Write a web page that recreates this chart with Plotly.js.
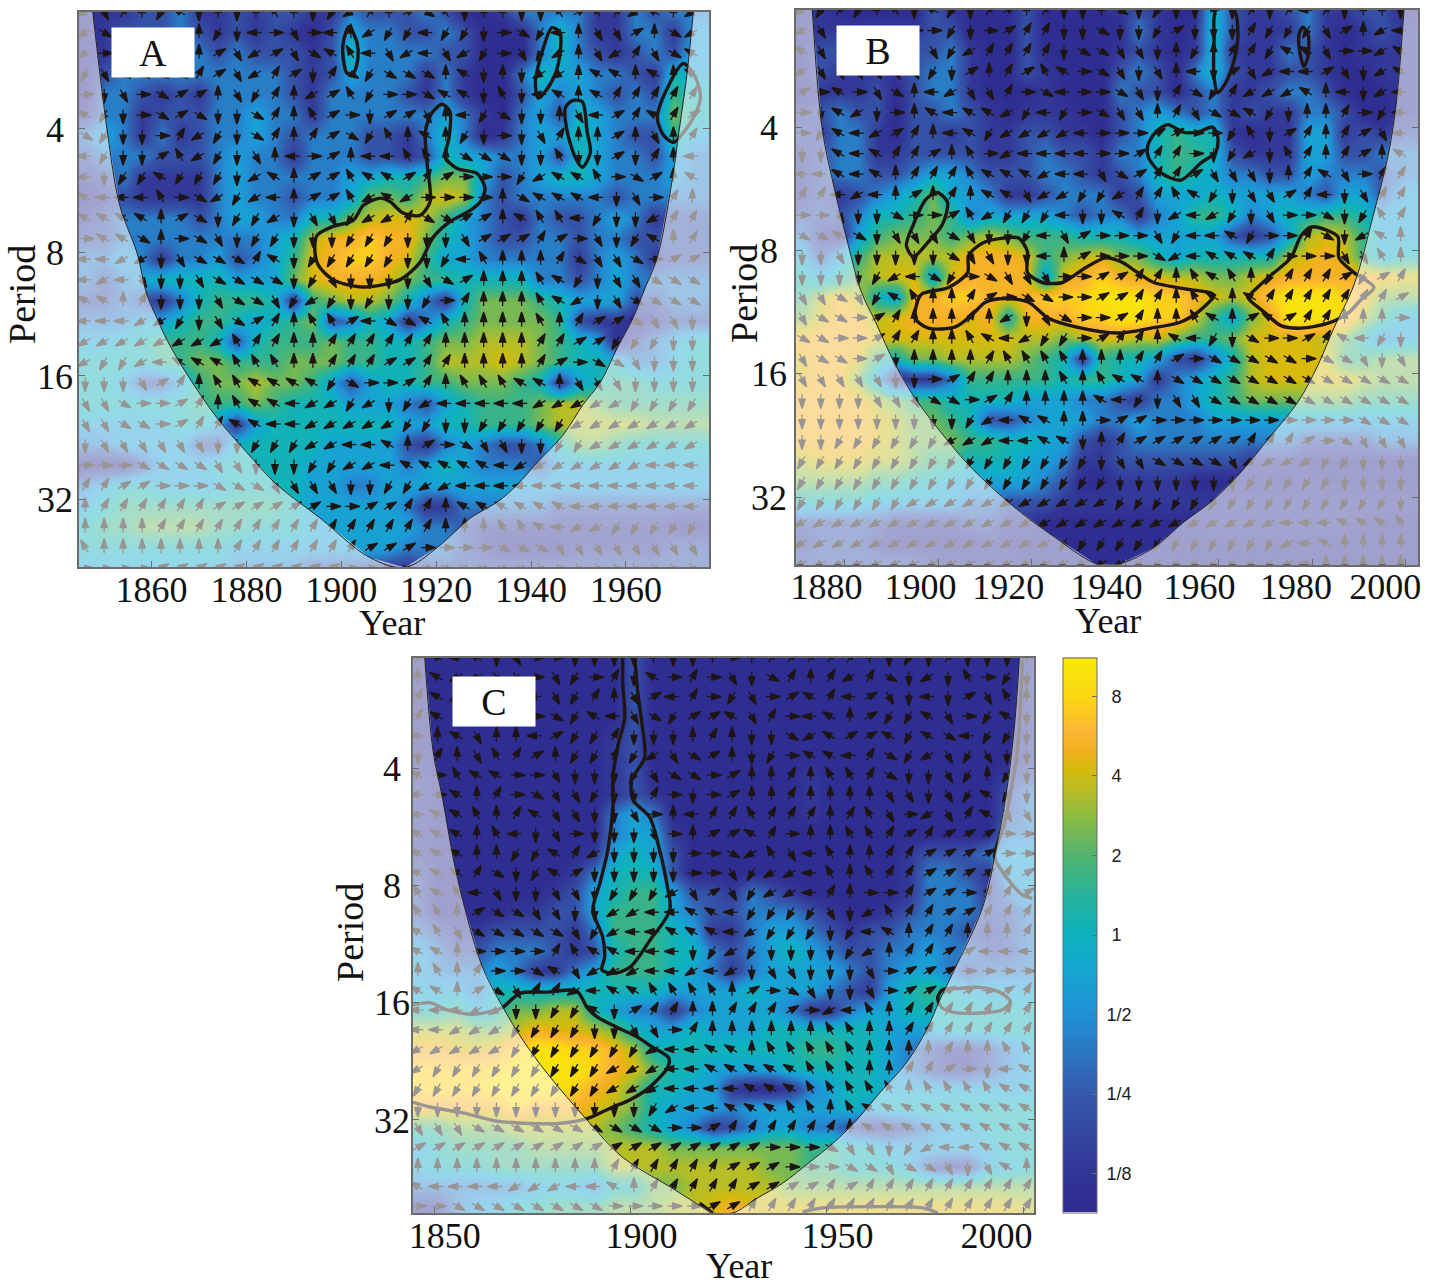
<!DOCTYPE html>
<html><head><meta charset="utf-8">
<script src="https://cdn.plot.ly/plotly-3.0.1.min.js"></script>
<style>html,body{margin:0;padding:0;background:#fff}#c{width:1429px;height:1286px}</style>
</head><body><div id="c"></div>
<script>
// Clock-hour phase of each arrow: 0=up,3=right,6=down,9=left (a=10h,b=11h)
const phaseA=["85107a6060b06781024b60066b2b18a08","843333076935390877977634790552048","8333330258254ab95895873578058154a","75444412581261474440a606880aa0a0a","36534220571082b7334aa6b69a0a11111","a76342466410b23622509746605921a12","476631876410 1247b0a07636510020501","97662b87650932099bb044466b6626109","9677a77768a022baa21233378aab3420a","a999b348789022b8a8333304aaa965310","aaaa0246778655788144220abb9766811","3aa403456776667776665222123567a01","9988654441a6777776679b00014554322","989566544446756666542000ba7655444","aa0166654457876766731000ba8654444","999887654210bb2944ab0000b01224556","88888888b110011111100000112277766","87789aaabbb0011122110000123445666","6665210bbaaaa7433210bbbaa05556666","55433210baa9887867899999888887777","55443211aa99888887766777778888888","6555555667778899a0234556677888888","33344445566677889aaaaa98888888999","112233344455556677889999999999999","01111112222223322110aaaaaa9999999","0000111111111111111000bba98877777","b00000001111111222333344455555555","333322222222223344444444555555555"].map(s=>s.replace(/ /g,""));
const powerA=["011223112122113222320013333113233","012223212121024332232000353113314","012333323222125333322000353212324","023333333332124333131003544332154","033212133332133332131002434323265","133122233433133333343103425433375","343131233432333221353013445432264","233322234331333221254433425433243","123111134333334455677423455433343","012111134332334776898323333323333","123333234433557899864321322343122","2233333333458aabaa754322332332222","3343133423469abba9644333331343122","3234555544479aaa97665555332343333","223213566651678875315777654442233","333445665456723541356777762110122","445566652566676655677888765402345","555566776667776655688898765553345","554224677877642455667776514566555","555555666765554443245666788766666","444445541455555554455666788888777","334444225555544442134322357765555","000244455555444443454333244444444","345544445555443344444444444444444","456666666665444443113333322222222","566777766555444444332111111111100","555555554444444443332100001111122","444444443333222211222222222222222"];
const phaseB=["87170b6a76120166046766b6161916006","855555337632116646672666177752089","a5555555781111644556070117aa5338a","8555555762012ba34565096258992568a","23a354098551349334561471888a09689","36a8630a9aa8797345501544a76001379","37a982109a78888933322337b62101259","66a9a1120b3899993321136786b10120a","99a9a0111baaa899542112555601a5311","1198902010aa58877811ba76552196511","335664332b8777966a1689876533467b1","44a46555456679523335799a7331468a0","6656666645566902333489aaa133355b0","666678947345553322110bab071112721","55457ab00123443322110ba0a11111112","544321000108654332100ba02a2110003","443321100ba987732110a97643321a976","54432600001bbbb000112344444344565","55555663211000b0baa04444444444444","6666555443210000a9765544444444444","666666666789aa0032233333333333444","6677777788899aa601222222111234555","777777777777777765544445888877666","777777777777777776666666777776666","777777888888888887777777777777776","88888888888888888888888888999aaab","8888888888888877777777777789a0000","888888888888888888777777778900000"];
const powerB=["010000021000200001210052112311220","011111122000200000310152111310121","022222223100200001210151113210111","021111233100210002320352112210011","011120233100010003220231123320001","123220223210111002343231211332001","213310221211221102356551011441212","123311222211232213356652111442233","123322344322233212356543322433323","121234574431123331244454444324424","222355676344443233134665345566544","310467776787666555444442124898644","424688888aaa9678977545555589a9645","545789949aaaa49aba99887789aaaaaa9","68a854aabbaaabbbcccbba989bcccba77","79aa89aaa9a5aaabbccbb96479cccb864","aaaa99999999887899897667999987534","9aa965778888765165542135899996677","9aa740113666665665413456899999877","aaaa87665555444332133456777777666","aaaa98776522344433433344444444444","aaaa98777665544212333333333222233","899988766555443112222222111000000","777766554444432001111000000100000","555544444332221111111111111111111","222221111221100000000011111111000","122210000010000000000000000000000","222222211111000000000000000000000"];
const phaseC=["1a9a653366660660301111106761666 0","0a8855357316a313564101814686b376","1a885595710529137532a192569625b0","1a5555347a954722a5139a0277a537a6","90a500927716660106648a22a7a49776","6105b120771785420673aa9147857566","a3baa3356667544320010bb146657076","93a01345576613632001000055657a76","9aab01a5566530911b11101b53851a55","aaa0b965366653022a1300bb12122233","aaa0077a1866663348b59b0011222233","aaa1467a2666663357889b0b11222212","bab95665567778525788910331223112","bb024455668899aa97777568b1122111","ab54444457899aaa98777679a0110001","aa033331baa999678766667801122999","0b01334a588899898655666532223333","aa02451189aabbbb0234566532222321","999886677a6211001112389b01111111","998887777665531000000bb001111111","888887777777899aa0bbbbb0000100bb","877777777788899aaaaabbb00112369a","77777777778889999aaabbbbb0bbbbaa","6666666666667899aaabb0baaaaaaaaa","55544444444443321111110aaaaaaaaa","22222222222222222233345567899aaa","000000000011111122233344544565a0","a999988899a011111222212111111111","33444444443333322111111111111111"].map(s=>s.replace(/ /g,""));
const powerC=["00000000000200000000000000000000","00000000000200000000000000000001","00000000000200000000000000000001","00000000000200000000000000000001","00000000001200000000000000000001","00000000001200000000000000000001","10000000001200000000100000000012","10000000001210000000100000000023","10000000003430000000100000000023","10000000003441000000000000000033","10000000014542000000000001222344","20000000135552000000000001332144","20000001245664221321000001333134","20000112246664322333210012333223","32112222136665411344321223332123","43223332125665532345432233433223","43334311346665431344443234432333","44435555555554444544432145654444","55645778854331344443113445555555","888778a9987544544455555544455555","aa99abccbba855555555665543211234","bbbbbccccba975544445555543211234","bbbbccccba9755441001345544444444","aaaaabaaa98754443444445455555555","66777888887654312344332112344555","45666677778887777777665544444455","45556666668888888877665554211445","33333344435577888887777777777777","1134455666777889a999999999999998"];

// Numeric power (log2) for each level character; colour stops of the bar
const levels=[-3.4,-2.9,-2.2,-1.35,-0.55,0.1,0.7,1.3,1.8,2.1,2.4,2.9,3.3];
const barStops=[-3.49,-3,-2,-1,-0.4,0,0.5,1,1.5,1.85,2.1,2.3,2.55,3,3.49];
const barColors=["#2d2b90","#323596","#3559ac","#2191d6","#14a8d0","#0eb2bd","#27b39a","#52b46f","#8fbc42","#bcbd20","#d8b90c","#f2b020","#fbb632","#fcd812","#f6ea0a"];
const barTickVals=[3,2,1,0,-1,-2,-3];
const barTickText=["\u00a0\u00a08","\u00a0\u00a04","\u00a0\u00a02","\u00a0\u00a01","\u00a01/2","\u00a01/4","\u00a01/8"];

// Cone of influence [year, log2 period]
const coiA=[[1847.6,1850.6,1853.3,1856.9,1859,1861.1,1863.4,1867.7,1873.8,1880.1,1886.4,1895.5,1906,1913.4,1920.2,1927.2,1932.9,1937.1,1941.3,1946.7,1951,1954.6,1958.2,1961.5,1964,1966.6,1970,1971,1972.9,1974.2],[1.05,2,2.62,3,3.34,3.53,3.72,4,4.34,4.62,4.88,5.15,5.47,5.55,5.39,5.15,5.02,4.88,4.7,4.48,4.23,4.05,3.77,3.53,3.29,3.04,2.35,2.07,1.54,1.05]];
const coiB=[[1873.1,1875.2,1878,1880.8,1883.4,1886.6,1890.9,1895.1,1902.2,1907.3,1915.9,1923.6,1933.7,1936.5,1939,1946.1,1952.6,1958.3,1964.7,1971.2,1976.9,1981.2,1984.6,1988.9,1993.2,1996.2,1997.9,1999.6],[1.05,2.01,2.53,2.96,3.32,3.58,3.93,4.2,4.55,4.77,5.07,5.29,5.54,5.547,5.54,5.41,5.2,5.04,4.8,4.5,4.23,3.93,3.63,3.28,2.69,2.23,1.82,1.05]];
const coiC=[[1847.6,1849.7,1852.2,1854.8,1857.3,1862.1,1867.5,1872.6,1878.7,1888.9,1898,1910,1917.6,1920.9,1926,1932.1,1938.7,1945.6,1951.5,1957.6,1963.4,1970.3,1975.4,1978.7,1982,1989.6,1993.2,1995.7,1997.8,1999],[1.056,1.85,2.27,2.76,3.13,3.68,4.04,4.32,4.6,5,5.32,5.57,5.73,5.794,5.794,5.67,5.54,5.36,5.2,5,4.77,4.51,4.23,3.98,3.75,3.19,2.67,2.21,1.62,1.056]];

// Significance contours [year, log2 period]
const contA1=[[1901.6,1900.4,1900.4,1901.2,1902.5,1903.5,1903.3,1901.6],[1.17,1.3,1.43,1.55,1.55,1.43,1.3,1.17]];
const contA2=[[1894.4,1894.9,1898.2,1902.5,1904.6,1908.2,1910.3,1913,1916.6,1918.7,1918.1,1917.7,1919.1,1921.2,1922.9,1922.7,1921.9,1924.4,1928.6,1930.3,1929.3,1927.2,1922.9,1919.3,1916.6,1912.4,1904.6,1898.2,1895.1,1894.4],[2.96,2.86,2.79,2.74,2.62,2.56,2.59,2.68,2.7,2.59,2.29,2.02,1.87,1.8,1.86,2.07,2.23,2.32,2.36,2.48,2.59,2.66,2.75,2.88,3.08,3.22,3.28,3.22,3.1,2.96]];
const contA3=[[1944.4,1946.1,1945.7,1944,1941.5,1940.9,1942.6,1944.4],[1.18,1.22,1.48,1.64,1.75,1.62,1.34,1.18]];
const contA4=[[1948.7,1950.8,1951.8,1952.5,1950.8,1949.3,1947.6,1947.2,1948.7],[1.77,1.78,2.02,2.19,2.31,2.23,2.02,1.83,1.77]];
const contA5=[[1972.1,1974.6,1975.7,1974.2,1972.1,1970,1967.9,1966.6,1968.7,1972.1],[1.47,1.58,1.75,1.91,2.03,2.11,2.05,1.91,1.67,1.47]];
const contB1=[[1899.8,1902,1900.9,1897.9,1894.7,1893.2,1894.7,1897.3,1899.8],[2.53,2.61,2.79,2.93,3.05,2.96,2.79,2.59,2.53]];
const contB2=[[1896.6,1902.2,1906.3,1906.5,1909.5,1913.8,1917.2,1919.1,1919.1,1922.3,1926.6,1931.5,1935.8,1939,1942.7,1946.1,1952.5,1958.9,1956.2,1951.9,1945.5,1938.4,1929.4,1923.6,1919.3,1914.4,1910.1,1907.3,1903.7,1897.9,1895.1,1895.8,1896.6],[3.35,3.3,3.18,3.04,2.94,2.9,2.9,3.01,3.18,3.26,3.26,3.14,3.06,3.09,3.18,3.26,3.31,3.36,3.48,3.58,3.63,3.67,3.62,3.55,3.42,3.39,3.42,3.52,3.62,3.63,3.55,3.39,3.35]];
const contB3=[[1959.4,1963.2,1964.1,1963.2,1961.5,1959.8,1959,1959,1959.4],[1.05,1.05,1.25,1.47,1.64,1.72,1.6,1.28,1.05]];
const contB4=[[1978,1979.1,1979.1,1978.2,1977.2,1977.2,1978],[1.19,1.25,1.42,1.51,1.36,1.24,1.19]];
const contB5=[[1949.1,1952.3,1955.5,1958.7,1959.8,1959.4,1956.2,1951.9,1947.6,1945,1944.8,1946.5,1949.1],[1.98,2.04,2.04,2,2.08,2.2,2.29,2.43,2.37,2.25,2.15,2.04,1.98]];
const contB6=[[1966.9,1971.2,1975.4,1977.6,1979.7,1983.4,1985.5,1985.7,1988.9,1993.2,1990.4,1987.6,1983.4,1977.6,1973.3,1969.7,1966.2,1966.9],[3.35,3.2,3.06,2.88,2.81,2.84,2.89,3.06,3.18,3.3,3.4,3.51,3.59,3.63,3.61,3.5,3.38,3.35]];
const contC1=[[1898,1898,1898.5,1896.7,1895.5,1895.5,1894.2,1892.2,1890.4,1892.9,1893.4,1892.7,1895.5,1899.8,1904.9,1910,1909.2,1907.4,1904.9,1900.6,1900.3,1903.6,1902.9,1901.8,1901.1],[1.06,1.28,1.57,1.82,2.08,2.33,2.7,2.98,3.21,3.44,3.61,3.72,3.75,3.7,3.47,3.21,2.98,2.7,2.42,2.27,2.1,1.91,1.62,1.34,1.06]];
const contC2=[[1844.6,1848.9,1853.2,1859.8,1866,1867.5,1871.8,1878.7,1886.3,1888.9,1891.4,1896.5,1901.6,1905.6,1909.7,1909.5,1904.9,1899.8,1895.5,1888.9,1882,1874.4,1866,1857.3,1848.9,1844.6],[4.02,4,4.06,4.1,4.06,4.04,3.92,3.91,3.9,4.04,4.12,4.21,4.29,4.38,4.47,4.55,4.72,4.83,4.89,4.99,5.03,5.03,5.01,4.94,4.89,4.85]];
const contC3=[[1999.8,1998.5,1997.2,1995.2,1992.7,1995.7,1999.8,2002.3],[1.08,1.85,2.13,2.47,2.76,2.93,3.08,3.11]];
const contC4=[[1983,1988.8,1993.9,1996.7,1994.7,1988,1982,1979.2,1978.2,1979.4,1983],[3.88,3.87,3.91,3.99,4.06,4.09,4.08,4.04,3.96,3.89,3.88]];
const contC5=[[1943.8,1948.9,1962.6,1974.4,1978.2],[5.785,5.75,5.74,5.75,5.794]];
const contC6=[[1917.6,1920.9],[5.71,5.794]];

// Axis ticks and labels
const xTicksA=[1860,1880,1900,1920,1940,1960];
const xLabelPosA=[1860,1880,1900,1920,1940,1960];
const xTextA=["1860","1880","1900","1920","1940","1960"];
const xTicksB=[1880,1900,1920,1940,1960,1980,2000];
const xLabelPosB=[1876.1,1896.2,1915,1936,1955.9,1976.5,1995.6];
const xTextB=["1880","1900","1920","1940","1960","1980","2000"];
const xTicksC=[1850,1900,1950,2000];
const xLabelPosC=[1852.7,1902.8,1952.7,1993.2];
const xTextC=["1850","1900","1950","2000"];
const yTickVals=[2,3,4,5];
const yTickText=["4\u00a0","8\u00a0","16","32"];

const SERIF="Liberation Serif, Times New Roman, serif";
const INK="#1e1614", FRAME="#6b6b6b", W=1429, H=1286, TIP=9;

function panel(id,o){
  const nc=o.phase[0].length, nr=o.phase.length;
  const xs=[],ys=[],ang=[],hx=[],hy=[];
  const z=o.power.map(s=>Array.from(s).slice(0,nc).map(c=>levels[parseInt(c,13)]));
  for(let r=0;r<nr;r++)for(let k=0;k<nc;k++){
    const ch=o.phase[r][k]; if(ch===undefined)continue;
    const a=parseInt(ch,12)*30, x=o.x0+o.dx*k, y=o.y0+o.dy*r, t=a*Math.PI/180;
    xs.push(x); ys.push(y); ang.push(a);
    hx.push(x+Math.sin(t)*TIP/o.pxX); hy.push(y-Math.cos(t)*TIP/o.pxY);
  }
  const xe=[]; for(let k=0;k<=nc;k++)xe.push(o.x0+o.dx*(k-.5)); xe[nc]=Math.max(xe[nc],o.xr[1]+1);
  const ye=[]; for(let r=0;r<=z.length;r++)ye.push(o.y0+o.dy*(r-.5));
  const xa='x'+id, ya='y'+id;
  const t=[{type:'heatmap',x:xe,y:ye,z:z,zsmooth:'best',coloraxis:'coloraxis',xaxis:xa,yaxis:ya,hoverinfo:'skip'},
   {type:'scatter',mode:'markers',x:xs,y:ys,xaxis:xa,yaxis:ya,hoverinfo:'skip',
     marker:{symbol:'line-ns',size:8,angle:ang,color:INK,line:{width:1.3,color:INK}}},
   {type:'scatter',mode:'markers',x:hx,y:hy,xaxis:xa,yaxis:ya,hoverinfo:'skip',
     marker:{symbol:'arrow',size:10,angle:ang,color:INK,line:{width:1.4,color:INK}}}];
  o.contours.forEach(c=>t.push({type:'scatter',mode:'lines',x:c[0],y:c[1],xaxis:xa,yaxis:ya,hoverinfo:'skip',
     line:{color:INK,width:3.4,shape:'spline',smoothing:.8}}));
  const top=o.yr[1],bot=o.yr[0];
  t.push({type:'scatter',mode:'lines',fill:'toself',fillcolor:'rgba(255,255,255,0.55)',line:{width:0},
     x:o.coi[0].concat([o.xr[1],o.xr[1],o.xr[0],o.xr[0]]),y:o.coi[1].concat([top,bot,bot,top]),xaxis:xa,yaxis:ya,hoverinfo:'skip'});
  t.push({type:'scatter',mode:'lines',x:o.coi[0],y:o.coi[1],xaxis:xa,yaxis:ya,hoverinfo:'skip',line:{color:'#222',width:1,shape:'spline'}});
  return t;
}

const A={phase:phaseA,power:powerA,x0:1846,dx:4,y0:1.053,dy:.1668,xr:[1844.7,1977.5],yr:[5.547,1.053],pxX:4.74,pxY:123.5,coi:coiA,contours:[contA1,contA2,contA3,contA4,contA5]};
const B={phase:phaseB,power:powerB,x0:1870.9,dx:4,y0:1.05,dy:.1663,xr:[1869.6,2002.6],yr:[5.547,1.05],pxX:4.67,pxY:123.3,coi:coiB,contours:[contB1,contB2,contB3,contB4,contB5,contB6]};
const C={phase:phaseC,power:powerC,x0:1845.85,dx:5,y0:1.056,dy:.1671,xr:[1844.6,2002.6],yr:[5.794,1.056],pxX:3.93,pxY:117.3,coi:coiC,contours:[contC1,contC2,contC3,contC4,contC5,contC6]};

function xax(px0,px1,o,anch,ticks,pos,text){
  return {domain:[px0/W,px1/W],range:o.xr,anchor:anch,showgrid:false,zeroline:false,
    tickmode:'array',tickvals:pos,ticktext:text,ticks:'',ticklabelstandoff:-10,tickfont:{family:SERIF,size:36,color:'#111'},
    minor:{tickmode:'array',tickvals:ticks,ticks:'inside',ticklen:6,tickcolor:FRAME,tickwidth:1,showgrid:false},
    showline:true,linecolor:FRAME,linewidth:1.5,mirror:true};
}
function yax(py0,py1,o,anch,off){
  return {domain:[1-py1/H,1-py0/H],range:o.yr,anchor:anch,showgrid:false,zeroline:false,
    tickmode:'array',tickvals:yTickVals,ticktext:yTickText,ticks:'inside',ticklen:6,tickcolor:FRAME,tickwidth:1,
    tickfont:{family:SERIF,size:36,color:'#111'},ticklabelstandoff:off,
    showline:true,linecolor:FRAME,linewidth:1.5,mirror:'ticks'};
}
function label(txt,cx,cy){return {xref:'paper',yref:'paper',x:cx/W,y:1-cy/H,xanchor:'center',yanchor:'middle',text:txt,showarrow:false,
  bgcolor:'#fff',width:80,height:47,font:{family:SERIF,size:38,color:'#111'}};}
function yearTitle(cx,cy){return {xref:'paper',yref:'paper',x:cx/W,y:1-cy/H,xanchor:'center',yanchor:'middle',text:'Year',showarrow:false,font:{family:SERIF,size:36,color:'#111'}};}
function periodTitle(cx,cy){return {xref:'paper',yref:'paper',x:cx/W,y:1-cy/H,xanchor:'center',yanchor:'middle',text:'Period',textangle:-90,showarrow:false,font:{family:SERIF,size:38,color:'#111'}};}

const layout={width:W,height:H,margin:{l:0,r:0,t:0,b:0},paper_bgcolor:'#fff',plot_bgcolor:'#fff',showlegend:false,
  xaxis:xax(79,709,A,'y',xTicksA,xLabelPosA,xTextA),
  yaxis:yax(12,567,A,'x',-3),
  xaxis2:xax(796,1418,B,'y2',xTicksB,xLabelPosB,xTextB),
  yaxis2:yax(10,564.5,B,'x2',0),
  xaxis3:xax(413,1033.5,C,'y3',xTicksC,xLabelPosC,xTextC),
  yaxis3:yax(657.5,1213,C,'x3',-6),
  coloraxis:{cmin:-3.49,cmax:3.49,colorscale:barStops.map((v,i)=>[(v+3.49)/6.98,barColors[i]]),
    colorbar:{x:1063/W,xanchor:'left',xref:'paper',y:1-935/H,yanchor:'middle',yref:'paper',thicknessmode:'pixels',thickness:34,
      lenmode:'pixels',len:555,xpad:0,ypad:0,outlinecolor:FRAME,outlinewidth:1,
      tickmode:'array',tickvals:barTickVals,ticktext:barTickText,ticks:'inside',ticklen:5,tickcolor:FRAME,
      tickfont:{family:'Liberation Sans, Arial, sans-serif',size:18,color:'#222'}}},
  annotations:[label('A',153,52.5),label('B',878,50),label('C',494,701.5),
    yearTitle(392,623),yearTitle(1108,621),yearTitle(739,1266),
    periodTitle(22,295),periodTitle(744,294),periodTitle(350,933)]
};
const traces=[].concat(panel('',A),panel('2',B),panel('3',C));
Plotly.newPlot('c',traces,layout,{displayModeBar:false,responsive:false});
</script></body></html>
